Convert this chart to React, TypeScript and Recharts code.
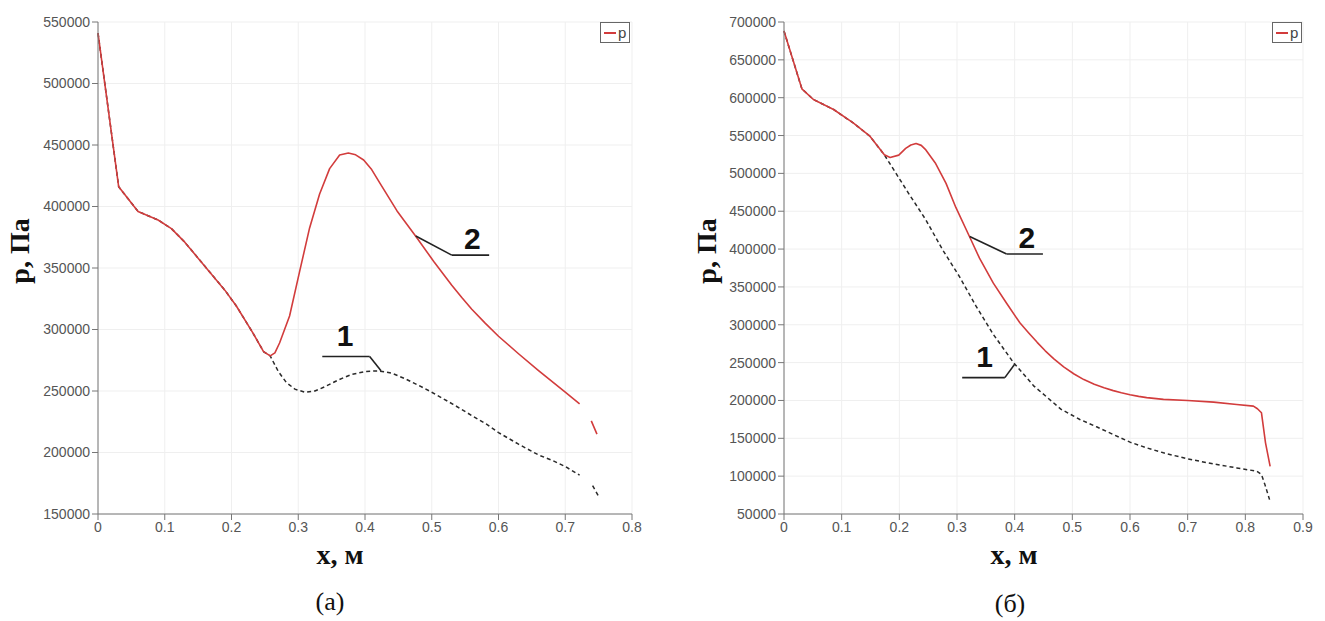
import React from 'react';
import {
  LineChart,
  Line,
  XAxis,
  YAxis,
  CartesianGrid,
  Legend,
  ReferenceLine,
  ReferenceDot,
} from 'recharts';

// ---- panel (а): x in metres, pressure in Pa ----
const A_X_TICKS = [0, 0.1, 0.2, 0.3, 0.4, 0.5, 0.6, 0.7, 0.8];
const A_P_TICKS = [150000, 200000, 250000, 300000, 350000, 400000, 450000, 500000, 550000];

// curve 2 (solid red); null marks the break near the outlet
const A_X_2 = [0, 0.031, 0.06, 0.09, 0.11, 0.13, 0.15, 0.17, 0.19, 0.207, 0.232, 0.248, 0.258, 0.265, 0.272, 0.287, 0.302, 0.317, 0.332, 0.347, 0.362, 0.375, 0.386, 0.398, 0.41, 0.423, 0.448, 0.476, 0.503, 0.53, 0.545, 0.56, 0.58, 0.6, 0.63, 0.66, 0.7, 0.7215, 0.73, 0.739, 0.7475];
const A_P_2 = [541000, 416000, 396000, 389000, 382000, 371000, 358000, 345000, 332000, 319300, 297300, 282000, 278500, 281000, 289000, 311000, 347000, 382600, 410200, 430800, 441900, 443500, 442000, 437800, 430000, 418400, 396400, 375800, 355300, 336000, 326000, 316500, 305200, 294500, 280300, 266600, 249000, 239600, null, 225700, 214900];

// curve 1 (dashed black)
const A_X_1 = [0, 0.031, 0.06, 0.09, 0.11, 0.13, 0.15, 0.17, 0.19, 0.207, 0.232, 0.248, 0.258, 0.27, 0.282, 0.295, 0.31, 0.325, 0.34, 0.36, 0.38, 0.4, 0.42, 0.44, 0.46, 0.482, 0.5, 0.532, 0.56, 0.582, 0.6, 0.63, 0.66, 0.682, 0.7, 0.7215, 0.73, 0.741, 0.7495];
const A_P_1 = [541000, 416000, 396000, 389000, 382000, 371000, 358000, 345000, 332000, 319300, 297300, 282000, 278500, 266000, 257000, 251500, 249000, 250000, 253500, 259000, 263500, 265800, 266400, 264500, 260000, 254100, 249000, 239200, 230000, 223000, 216200, 206800, 198000, 193200, 188600, 181600, null, 173000, 164900];

// leader lines for the curve numbers: [x, p] corners, then the number position
const A_LEADER_1 = [[0.336, 278000], [0.407, 278000], [0.424, 266400]];
const A_TAG_1 = [0.37, 295000];
const A_LEADER_2 = [[0.476, 376000], [0.53, 360500], [0.586, 360500]];
const A_TAG_2 = [0.561, 374000];

// ---- panel (б) ----
const B_X_TICKS = [0, 0.1, 0.2, 0.3, 0.4, 0.5, 0.6, 0.7, 0.8, 0.9];
const B_P_TICKS = [50000, 100000, 150000, 200000, 250000, 300000, 350000, 400000, 450000, 500000, 550000, 600000, 650000, 700000];

const B_X_2 = [0, 0.031, 0.051, 0.086, 0.12, 0.149, 0.174, 0.184, 0.199, 0.211, 0.22, 0.229, 0.238, 0.246, 0.263, 0.281, 0.298, 0.322, 0.339, 0.363, 0.386, 0.409, 0.424, 0.439, 0.453, 0.468, 0.485, 0.503, 0.52, 0.538, 0.555, 0.571, 0.585, 0.6, 0.615, 0.629, 0.658, 0.7, 0.745, 0.785, 0.814, 0.821, 0.828, 0.835, 0.843];
const B_P_2 = [688000, 611700, 597600, 584400, 566700, 549100, 524500, 521000, 524100, 533000, 537500, 539400, 537000, 531000, 513000, 486800, 455000, 416000, 388000, 355000, 328500, 302600, 289500, 276800, 265600, 254900, 244300, 235000, 227600, 221500, 216700, 213000, 210200, 207600, 205400, 203800, 201400, 200000, 197800, 194700, 192500, 189000, 183700, 144000, 113000];

const B_X_1 = [0, 0.031, 0.051, 0.086, 0.12, 0.149, 0.174, 0.187, 0.216, 0.246, 0.275, 0.304, 0.333, 0.363, 0.398, 0.433, 0.48, 0.513, 0.542, 0.571, 0.6, 0.629, 0.658, 0.7, 0.745, 0.785, 0.82, 0.828, 0.834, 0.842];
const B_P_1 = [688000, 611700, 597600, 584400, 566700, 549100, 524500, 508800, 473700, 438600, 399100, 364000, 324600, 287300, 250000, 219300, 188600, 174900, 165200, 155000, 144900, 137400, 130800, 122800, 116200, 110900, 106500, 102100, 88800, 69000];

const B_LEADER_1 = [[0.309, 230200], [0.383, 230200], [0.4, 247800]];
const B_TAG_1 = [0.348, 257900];
const B_LEADER_2 = [[0.322, 416500], [0.386, 393400], [0.449, 393400]];
const B_TAG_2 = [0.421, 415800];

const RED = '#d23c3c';
const TICK_FONT = "'Liberation Sans', Arial, sans-serif";
const SERIF = "'Liberation Serif', 'Times New Roman', serif";

const toRows = (xs: number[], ps: (number | null)[]) => xs.map((x, i) => ({ x, p: ps[i] }));

function LegendBox({ payload }: any) {
  const items = (payload || []).filter((e: any) => e.type !== 'none');
  return (
    <div
      style={{
        border: '1px solid #666',
        background: '#fff',
        height: 19,
        padding: '0 3px',
        display: 'flex',
        alignItems: 'center',
        fontFamily: TICK_FONT,
        fontSize: 15,
        color: '#444',
      }}
    >
      {items.map((e: any) => (
        <span key={e.value} style={{ display: 'flex', alignItems: 'center' }}>
          <span style={{ width: 12, height: 2, background: e.color, marginRight: 2 }} />
          {e.value}
        </span>
      ))}
    </div>
  );
}

function leaderSegments(pts: number[][], key: string) {
  return pts.slice(1).map((pt, i) => (
    <ReferenceLine
      key={`${key}-${i}`}
      segment={[{ x: pts[i][0], y: pts[i][1] }, { x: pt[0], y: pt[1] }]}
      stroke="#222"
      strokeWidth={1.6}
    />
  ));
}

function tag(pos: number[], text: string) {
  return (
    <ReferenceDot
      key={`tag-${text}`}
      x={pos[0]}
      y={pos[1]}
      r={0}
      fill="none"
      stroke="none"
      label={{ value: text, position: 'center', fontSize: 30, fontWeight: 700, fill: '#111', fontFamily: TICK_FONT }}
    />
  );
}

interface PanelProps {
  width: number;
  yAxisWidth: number;
  right: number;
  xTicks: number[];
  pTicks: number[];
  solid: { x: number; p: number | null }[];
  dashed: { x: number; p: number | null }[];
  leaders: { pts: number[][]; tag: number[]; text: string }[];
  legendLeft: number;
}

function Panel({ width, yAxisWidth, right, xTicks, pTicks, solid, dashed, leaders, legendLeft }: PanelProps) {
  const tick = { fill: '#555', fontSize: 14, fontFamily: TICK_FONT };
  return (
    <LineChart width={width} height={621} margin={{ top: 22, right, bottom: 0, left: 0 }}>
      <CartesianGrid stroke="#efefef" />
      <XAxis
        type="number"
        dataKey="x"
        domain={[xTicks[0], xTicks[xTicks.length - 1]]}
        ticks={xTicks}
        height={107}
        tick={tick}
        stroke="#777"
        tickFormatter={(v) => String(v)}
      />
      <YAxis
        type="number"
        domain={[pTicks[0], pTicks[pTicks.length - 1]]}
        ticks={pTicks}
        width={yAxisWidth}
        tick={tick}
        stroke="#777"
      />
      <Legend
        layout="vertical"
        align="center"
        verticalAlign="middle"
        wrapperStyle={{ left: legendLeft, top: 22, width: 'auto' }}
        content={LegendBox}
      />
      <Line
        data={dashed}
        dataKey="p"
        type="linear"
        stroke="#2a2a2a"
        strokeWidth={1.5}
        strokeDasharray="4 3"
        dot={false}
        legendType="none"
        isAnimationActive={false}
      />
      <Line
        data={solid}
        dataKey="p"
        name="p"
        type="linear"
        stroke={RED}
        strokeWidth={1.6}
        strokeLinejoin="round"
        dot={false}
        isAnimationActive={false}
      />
      {leaders.map((l, i) => leaderSegments(l.pts, `l${i}`))}
      {leaders.map((l) => tag(l.tag, l.text))}
    </LineChart>
  );
}

const abs = (left: number, top: number, extra: React.CSSProperties = {}): React.CSSProperties => ({
  position: 'absolute',
  left,
  top,
  transform: 'translate(-50%, -50%)',
  whiteSpace: 'nowrap',
  color: '#111',
  ...extra,
});

export default function App() {
  const axisTitle: React.CSSProperties = { fontFamily: SERIF, fontWeight: 700, fontSize: 28 };
  const caption: React.CSSProperties = { fontFamily: SERIF, fontSize: 26 };
  return (
    <div style={{ position: 'absolute', left: 0, top: 0, width: 1325, height: 621, background: '#fff' }}>
      <div style={{ position: 'absolute', left: 0, top: 0 }}>
        <Panel
          width={660}
          yAxisWidth={98}
          right={28}
          xTicks={A_X_TICKS}
          pTicks={A_P_TICKS}
          solid={toRows(A_X_2, A_P_2)}
          dashed={toRows(A_X_1, A_P_1)}
          leaders={[
            { pts: A_LEADER_1, tag: A_TAG_1, text: '1' },
            { pts: A_LEADER_2, tag: A_TAG_2, text: '2' },
          ]}
          legendLeft={600}
        />
      </div>
      <div style={{ position: 'absolute', left: 660, top: 0 }}>
        <Panel
          width={665}
          yAxisWidth={124}
          right={22}
          xTicks={B_X_TICKS}
          pTicks={B_P_TICKS}
          solid={toRows(B_X_2, B_P_2)}
          dashed={toRows(B_X_1, B_P_1)}
          leaders={[
            { pts: B_LEADER_1, tag: B_TAG_1, text: '1' },
            { pts: B_LEADER_2, tag: B_TAG_2, text: '2' },
          ]}
          legendLeft={612}
        />
      </div>

      <div style={abs(20, 251, { ...axisTitle, transform: 'translate(-50%, -50%) rotate(-90deg)' })}>p, Па</div>
      <div style={abs(707, 251, { ...axisTitle, transform: 'translate(-50%, -50%) rotate(-90deg)' })}>p, Па</div>
      <div style={abs(340, 555, axisTitle)}>x, м</div>
      <div style={abs(1014, 555, axisTitle)}>x, м</div>
      <div style={abs(330, 602, caption)}>(а)</div>
      <div style={abs(1010, 604, caption)}>(б)</div>
    </div>
  );
}
